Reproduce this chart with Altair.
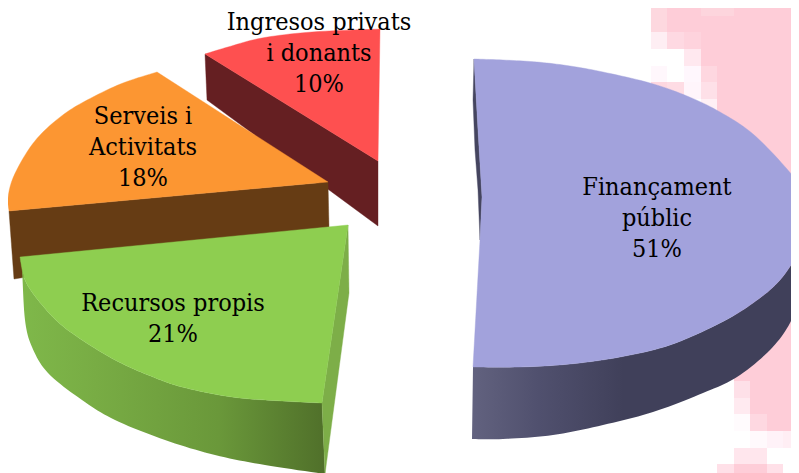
import altair as alt
import pandas as pd

# --- values
categories = ["Finançament públic", "Recursos propis", "Serveis i Activitats", "Ingresos privats i donants"]
shares = [51, 21, 18, 10]
label_lines = [["Finançament", "públic"], ["Recursos propis"], ["Serveis i", "Activitats"], ["Ingresos privats", "i donants"]]
label_x = [657, 173, 143, 319]
label_mid = [187, 303, 116, 22]
LINE = 31
FONT = "DejaVu Serif Condensed"
FONT_SIZE = 25
OFF = 8  # page margin
W, H = 783, 465

# slice outlines (window pixels)
blue_rim = [(474, 59), (503, 60), (537, 62), (570, 66), (603, 72), (650, 83), (687, 96), (720, 112), (753, 134),
            (787, 169), (799, 187), (808, 218), (799, 250),
            (780, 280), (753, 303), (720, 323), (670, 345), (620, 357), (570, 364), (520, 367), (473, 367)]
blue_apex_edge = [(480, 240), (482, 197), (478, 130)]
blue_low = [(472, 439), (503, 439), (553, 435), (603, 425), (653, 412), (703, 393), (737, 377), (770, 350), (790, 323),
            (798, 297), (802, 262), (803, 245)]
blue_sliver = [(474, 59), (473, 100), (475, 150), (478, 190), (480, 240), (482, 197), (478, 130)]

green_rim = [(20, 257), (25, 280), (38, 300), (58, 322), (82, 340), (115, 360), (148, 375), (182, 387), (232, 397),
             (282, 401), (322, 403)]
green_low = [(20, 257), (22, 270), (25, 320), (32, 347), (48, 373), (82, 400), (115, 420), (165, 440), (215, 455),
             (265, 465), (325, 474)]
green_corner = (348, 225)
green_face = [(348, 225), (349, 293), (325, 474), (322, 403)]

orange_rim = [(9, 211), (8, 198), (13, 178), (27, 152), (43, 132), (67, 112), (93, 97), (123, 83), (157, 72)]
orange_apex = (328, 182)
orange_side = [(9, 211), (328, 182), (329, 228), (14, 279)]

red_rim = [(205, 54), (228, 47), (262, 38), (312, 32), (380, 29)]
red_apex = (378, 161)
red_side = [(205, 54), (378, 161), (378, 226), (207, 100)]

# pixelated pink background: x0, x1, y0, y1, colour
PINK = "#fecdd8"
bg_cells = [
    (734, 800, 0, 381, PINK), (717, 734, 16, 140, PINK), (701, 717, 16, 66, PINK),
    (651, 667, 0, 32, "#fdd8df"), (667, 701, 0, 16, PINK), (701, 734, 0, 16, "#fdd5dd"),
    (667, 701, 16, 32, PINK),
    (651, 667, 32, 49, "#feeef3"), (667, 684, 32, 49, "#fed9e2"), (684, 701, 32, 49, "#fed3dd"),
    (684, 701, 49, 66, "#ffe8ef"),
    (651, 667, 66, 82, "#fff7fc"), (684, 701, 66, 82, "#fff7fd"), (701, 717, 66, 82, "#fed7e0"),
    (701, 717, 82, 99, "#fee0e8"), (684, 701, 82, 99, "#fff5fb"), (667, 684, 82, 99, "#fedce4"), (651, 667, 82, 99, "#fed7e0"),
    (701, 717, 99, 115, "#fff0f5"),
    (734, 750, 381, 398, "#fee0e8"), (750, 800, 381, 398, PINK),
    (734, 750, 398, 414, "#ffeaf0"), (750, 800, 398, 414, PINK),
    (734, 750, 414, 431, "#fffbfd"), (750, 767, 414, 431, "#fed8e1"), (767, 800, 414, 431, PINK),
    (750, 767, 431, 448, "#fff9fc"), (767, 783, 431, 448, "#fff2f8"), (783, 800, 431, 448, "#ffeef4"),
    (734, 767, 448, 464, "#ffe6ed"),
    (717, 734, 464, 474, "#ffe0e8"), (734, 767, 464, 474, PINK), (767, 783, 464, 474, "#ffe0e8"),
]


def smooth(pts, n=10):
    """Catmull-Rom through the traced rim points."""
    out = []
    p = [pts[0]] + list(pts) + [pts[-1]]
    for i in range(1, len(p) - 2):
        p0, p1, p2, p3 = p[i - 1], p[i], p[i + 1], p[i + 2]
        for k in range(n):
            t = k / n
            out.append(tuple(
                0.5 * (2 * p1[j] + (p2[j] - p0[j]) * t + (2 * p0[j] - 5 * p1[j] + 4 * p2[j] - p3[j]) * t * t
                       + (3 * p1[j] - p0[j] - 3 * p2[j] + p3[j]) * t ** 3) for j in range(2)))
    out.append(tuple(pts[-1]))
    return out


X = alt.X("x:Q", scale=alt.Scale(domain=[0, W], nice=False, zero=False), axis=None)
Y = alt.Y("y:Q", scale=alt.Scale(domain=[H, 0], nice=False, zero=False), axis=None)


def outline(pts):
    closed = list(pts) + [pts[0]]
    return pd.DataFrame({"x": [p[0] - OFF for p in closed], "y": [p[1] - OFF for p in closed], "i": range(len(closed))})


def flat(pts, color):
    return alt.Chart(outline(pts)).mark_line(fill=color, stroke=color, strokeWidth=0.4, interpolate="linear").encode(
        x=X, y=Y, order="i:Q")


def grad(pts, stops):
    g = alt.LinearGradient(gradient="linear", x1=0, x2=1, y1=0, y2=0,
                           stops=[alt.GradientStop(offset=o, color=c) for o, c in stops])
    return alt.Chart(outline(pts)).mark_line(fill=g, strokeWidth=0, interpolate="linear").encode(
        x=X, y=Y, order="i:Q")


bg = pd.DataFrame(bg_cells, columns=["x0", "x1", "y0", "y1", "c"])
for col in ["x0", "x1", "y0", "y1"]:
    bg[col] = bg[col] - OFF
background = alt.Chart(bg).mark_rect(strokeWidth=0).encode(
    x=alt.X("x0:Q", scale=X.to_dict()["scale"], axis=None), x2="x1:Q",
    y=alt.Y("y0:Q", scale=Y.to_dict()["scale"], axis=None), y2="y1:Q",
    fill=alt.Color("c:N", scale=None, legend=None),
)

blue_rim_s = smooth(blue_rim)
split = 11 * 10  # rim index of the right-most point
layers = [
    background,
    flat(blue_sliver, "#45455f"),
    # Finançament públic
    grad(smooth(blue_low) + blue_rim_s[split:],
         [(0, "#62627f"), (0.2, "#50506e"), (0.45, "#40405a"), (1, "#40405a")]),
    flat(blue_rim_s + blue_apex_edge, "#a2a2dc"),
    # Ingresos privats i donants
    flat(red_side, "#651f22"),
    flat(smooth(red_rim) + [red_apex], "#fe5050"),
    # Serveis i Activitats
    flat(orange_side, "#663c14"),
    flat(smooth(orange_rim) + [orange_apex], "#fc9632"),
    # Recursos propis
    grad(smooth(green_low) + list(reversed(smooth(green_rim))),
         [(0, "#7fb84a"), (0.25, "#78ac44"), (0.65, "#6a983a"), (1, "#50702a")]),
    flat(green_face, "#7dae48"),
    flat(smooth(green_rim) + [green_corner], "#8ece50"),
]

rows = []
for cat, share, lines, x, y in zip(categories, shares, label_lines, label_x, label_mid):
    for i, t in enumerate(lines + [f"{share}%"]):
        rows.append({"t": t, "x": x - OFF, "y": y + i * LINE - OFF, "cat": cat})

labels = alt.Chart(pd.DataFrame(rows)).mark_text(
    font=FONT, fontSize=FONT_SIZE, color="#000000", align="center", baseline="middle"
).encode(x=X, y=Y, text="t:N")

chart = alt.layer(*layers, labels).properties(
    width=W, height=H, padding=0, autosize=alt.AutoSizeParams(type="none")
).configure_view(stroke=None)

chart.save("out.html", embed_options={"renderer": "svg", "actions": False})
